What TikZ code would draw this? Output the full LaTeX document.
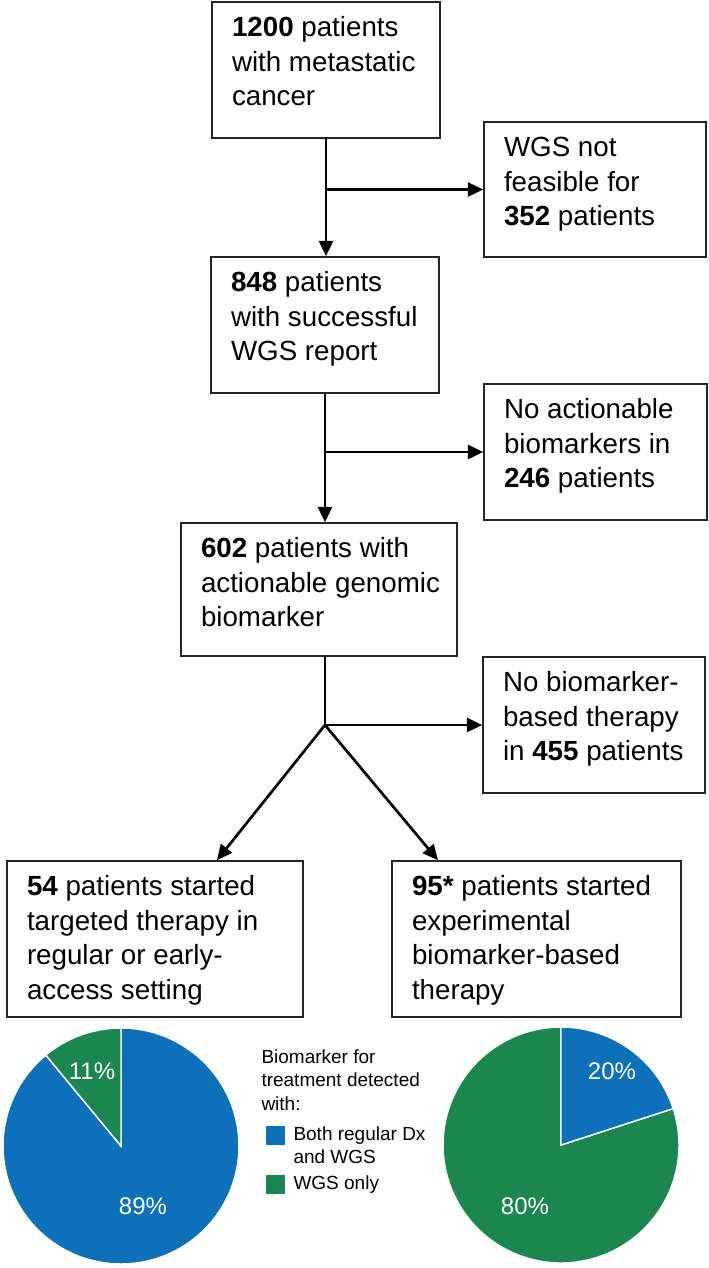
\documentclass[tikz,border=0pt]{standalone}
\usepackage{fontspec}
\setmainfont{Liberation Sans}
\usetikzlibrary{arrows.meta}

\definecolor{pieblue}{RGB}{12,113,184}
\definecolor{piegreen}{RGB}{27,134,79}

% box text: width, height, lines
\newcommand{\flowpar}[3]{\parbox[c][#2][t]{#1}{\raggedright\strut #3}}

\tikzset{every picture/.style={line width=0.75pt}}
\tikzset{
  flowbox/.style={draw=black!85, line width=1.2pt, inner xsep=15pt, inner ysep=8pt, font=\fontsize{20.8pt}{25.9pt}\selectfont},
  flowline/.style={line width=2pt, -{Triangle[length=11.5pt,width=10.5pt]}},
  pieslice/.style={draw=white, line width=1.1pt},
  pielabel/.style={text=white, inner sep=0pt, font=\fontsize{18pt}{21pt}\selectfont},
  legendtxt/.style={align=left, inner sep=0pt, font=\fontsize{14.25pt}{17.6pt}\selectfont},
  legendsq/.style={minimum size=14.25pt, inner sep=0pt}
}

\begin{document}
\begin{tikzpicture}[x=0.75pt,y=0.75pt,yscale=-1,xscale=1]
\useasboundingbox (0,0) rectangle (709,1268);

%Shape: Rectangle (boxes)
\node[flowbox] (start) at (326,70) {\flowpar{141pt}{86pt}{\textbf{1200} patients\\with metastatic\\cancer}};
\node[flowbox] (nowgs) at (595,189.5) {\flowpar{136.5pt}{85.25pt}{WGS not\\feasible for\\\textbf{352} patients}};
\node[flowbox] (wgs) at (325,325) {\flowpar{141pt}{86pt}{\textbf{848} patients\\with successful\\WGS report}};
\node[flowbox] (noact) at (595.5,452) {\flowpar{137.25pt}{86pt}{No actionable\\biomarkers in\\\textbf{246} patients}};
\node[flowbox, inner xsep=12pt] (act) at (319,589.5) {\flowpar{183pt}{83.75pt}{\hspace*{3pt}\textbf{602} patients with\\\hspace*{3pt}actionable genomic\\\hspace*{3pt}biomarker}};
\node[flowbox] (nother) at (594,725) {\flowpar{136.5pt}{86pt}{No biomarker-\\based therapy\\in \textbf{455} patients}};
\node[flowbox] (targ) at (155,939) {\flowpar{192pt}{101pt}{\textbf{54} patients started\\targeted therapy in\\regular or early-\\access setting}};
\node[flowbox] (expt) at (536.5,939) {\flowpar{186.75pt}{101pt}{\textbf{95*} patients started\\experimental\\biomarker-based\\therapy}};

%Straight Lines (junctions)
\coordinate (j1) at (start.south |- nowgs.west);
\coordinate (j2) at (wgs.south |- noact.west);
\coordinate (j3) at (wgs.south |- nother.west);

\draw[flowline] (start.south) -- (start.south |- wgs.north);
\draw[flowline] (j1) -- (j1 -| nowgs.west);
\draw[flowline] (wgs.south) -- (wgs.south |- act.north);
\draw[flowline] (j2) -- (j2 -| noact.west);
\draw[line width=2pt] (act.south -| j3) -- (j3);
\draw[flowline] (j3) -- (j3 -| nother.west);
\draw[flowline] (j3) -- ([xshift=46.5pt]targ.north);
\draw[flowline] (j3) -- ([xshift=-73.9pt]expt.north);

%Shape: Pie (targeted therapy)
\begin{scope}[shift={(121,1146)},yscale=-1]
\filldraw[pieslice, fill=pieblue] (0,0) -- (129.6:118) arc[start angle=129.6, end angle=450, radius=118] -- cycle;
\filldraw[pieslice, fill=piegreen] (0,0) -- (90:118) arc[start angle=90, end angle=129.6, radius=118] -- cycle;
\end{scope}

%Shape: Pie (experimental therapy)
\begin{scope}[shift={(561,1145)},yscale=-1]
\filldraw[pieslice, fill=piegreen] (0,0) -- (18:118) arc[start angle=18, end angle=-270, radius=118] -- cycle;
\filldraw[pieslice, fill=pieblue] (0,0) -- (90:118) arc[start angle=90, end angle=18, radius=118] -- cycle;
\end{scope}

% Text Node
\node[pielabel] (pctleftg) at (92,1071) {11\%};
\node[pielabel] (pctleftb) at (143,1206) {89\%};
\node[pielabel] (pctrightb) at (612,1071) {20\%};
\node[pielabel] (pctrightg) at (525,1206) {80\%};

% Legend
\node[legendtxt, anchor=north west] (legtitle) at (261,1049) {Biomarker for\\treatment detected\\with:};
\node[legendsq, fill=pieblue] (sqboth) at (275.5,1135.5) {};
\node[legendsq, fill=piegreen] (sqwgs) at (275.5,1184.5) {};
\node[legendtxt, anchor=north west] (legboth) at (293,1126) {Both regular Dx\\and WGS};
\node[legendtxt, anchor=west] (legwgs) at (293,1185) {WGS only};

\end{tikzpicture}
\end{document}
